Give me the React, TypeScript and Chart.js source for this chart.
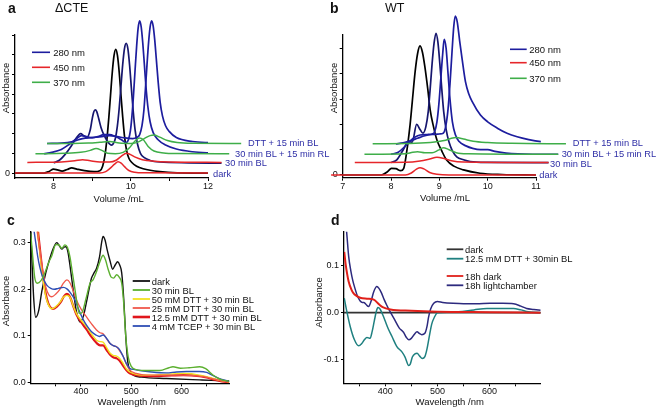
import { useEffect, useRef } from 'react';
import { Chart, registerables } from 'chart.js';

Chart.register(...registerables);

const FONT = '"Liberation Sans", Arial, Helvetica, sans-serif';
type Pt = [number, number];

// ---------- colours ----------
const NAVY = '#1d1d9e';
const RED = '#e6262a';
const GREEN = '#3fae49';
const LABEL_BLUE = '#2e2ea6';

// ---------- panel a (ΔCTE) : volume (mL) vs absorbance (offset traces) ----------
const A_X_TICKS = [8, 9, 10, 11, 12];
const A_X_LABELS = ['8', '', '10', '', '12'];
const A_Y_TICKS = [0, 1, 2, 3, 4, 5, 6, 7];
const A_Y_LABELS = ['0', '', '', '', '', '', '', ''];

const A_DARK_280: Pt[] = [[7.0,0],[7.75,0],[7.88,0.08],[8.0,0.2],[8.1,0.16],[8.22,0.1],[8.35,0.18],[8.47,0.26],[8.6,0.2],[8.8,0.12],[9.05,0.07],[9.2,0.12],[9.27,0.35],[9.33,0.9],[9.385,1.8],[9.43,2.8],[9.475,3.95],[9.52,5.1],[9.565,5.95],[9.61,6.27],[9.655,5.95],[9.7,5.1],[9.745,3.95],[9.79,2.85],[9.835,1.9],[9.89,1.15],[9.95,0.75],[10.02,0.55],[10.15,0.35],[10.32,0.22],[10.75,0.07],[11.2,0.01],[12.0,0]];
const A_DARK_450: Pt[] = [[7.0,0],[9.2,0],[9.35,0.07],[9.47,0.25],[9.58,0.45],[9.67,0.57],[9.75,0.5],[9.85,0.3],[9.95,0.13],[10.1,0.04],[10.35,0.01],[12.0,0]];
const A_BL_280: Pt[] = [[8.0,0.52],[8.15,0.65],[8.3,0.95],[8.45,1.35],[8.58,1.75],[8.7,2.0],[8.78,1.9],[8.86,1.8],[8.95,2.2],[9.0,2.75],[9.04,3.1],[9.08,3.2],[9.12,3.1],[9.17,2.75],[9.23,2.3],[9.3,1.95],[9.4,1.6],[9.5,1.42],[9.55,1.5],[9.6,1.75],[9.65,2.35],[9.7,3.3],[9.745,4.4],[9.79,5.5],[9.835,6.3],[9.88,6.58],[9.925,6.3],[9.97,5.45],[10.015,4.3],[10.06,3.2],[10.11,2.2],[10.17,1.5],[10.25,1.0],[10.35,0.78],[10.5,0.64],[10.75,0.56],[11.5,0.52],[12.35,0.5]];
const A_BL_450: Pt[] = [[7.32,0.54],[8.2,0.56],[8.55,0.62],[8.75,0.68],[8.95,0.62],[9.2,0.56],[9.45,0.56],[9.62,0.65],[9.75,0.85],[9.89,1.0],[9.98,0.95],[10.1,0.82],[10.3,0.68],[10.6,0.6],[11.0,0.56],[12.35,0.54]];
const A_RL_280: Pt[] = [[7.75,0.98],[7.95,1.05],[8.2,1.2],[8.4,1.45],[8.6,1.75],[8.72,1.9],[8.85,1.85],[9.0,1.8],[9.15,1.85],[9.3,1.95],[9.45,1.95],[9.6,1.85],[9.75,1.7],[9.88,1.55],[9.94,1.7],[9.99,2.15],[10.03,2.9],[10.07,3.95],[10.11,5.2],[10.15,6.4],[10.19,7.35],[10.23,7.72],[10.27,7.4],[10.31,6.6],[10.35,5.55],[10.39,4.45],[10.44,3.4],[10.5,2.6],[10.58,2.05],[10.7,1.7],[10.9,1.42],[11.18,1.22],[11.6,1.08],[12.0,1.02],[12.55,0.98]];
const A_RL_370: Pt[] = [[7.53,0.98],[8.3,1.0],[8.7,1.05],[8.95,1.15],[9.1,1.25],[9.25,1.15],[9.4,1.0],[9.6,0.98],[9.8,1.05],[9.95,1.25],[10.1,1.6],[10.22,1.78],[10.32,1.7],[10.45,1.35],[10.6,1.12],[10.85,1.02],[11.2,0.99],[12.55,0.98]];
const A_DTT_280: Pt[] = [[7.83,1.5],[8.2,1.52],[8.5,1.6],[8.75,1.75],[9.0,1.8],[9.25,1.85],[9.45,1.9],[9.65,1.85],[9.85,1.78],[10.05,1.75],[10.15,1.8],[10.23,1.95],[10.29,2.4],[10.34,3.2],[10.38,4.3],[10.42,5.5],[10.46,6.6],[10.5,7.4],[10.54,7.72],[10.58,7.45],[10.62,6.75],[10.66,5.8],[10.71,4.6],[10.76,3.6],[10.82,2.9],[10.9,2.4],[11.0,2.1],[11.18,1.8],[11.6,1.6],[12.0,1.54],[12.86,1.5]];
const A_DTT_370: Pt[] = [[7.83,1.5],[8.5,1.5],[8.9,1.52],[9.2,1.56],[9.45,1.6],[9.7,1.52],[10.0,1.5],[10.2,1.58],[10.35,1.75],[10.5,1.9],[10.6,1.93],[10.75,1.82],[10.95,1.65],[11.2,1.55],[11.6,1.51],[12.86,1.5]];

// ---------- panel b (WT) ----------
const B_X_TICKS = [7, 8, 9, 10, 11];
const B_X_LABELS = ['7', '8', '9', '10', '11'];
const B_Y_TICKS = [0, 1, 2, 3, 4, 5];
const B_Y_LABELS = ['0', '', '', '', '', ''];

const B_DARK_280: Pt[] = [[7.0,0],[7.8,0],[7.92,0.12],[8.01,0.26],[8.1,0.25],[8.2,0.17],[8.26,0.25],[8.32,0.86],[8.39,1.91],[8.44,2.9],[8.5,4.1],[8.55,4.8],[8.6,5.1],[8.65,4.85],[8.7,4.28],[8.76,3.4],[8.81,2.57],[8.88,1.9],[8.95,1.38],[9.05,0.95],[9.15,0.59],[9.3,0.35],[9.5,0.2],[9.84,0.07],[10.3,0.02],[11.0,0]];
const B_DARK_450: Pt[] = [[6.76,0],[8.3,0],[8.42,0.08],[8.52,0.22],[8.6,0.29],[8.68,0.24],[8.8,0.1],[8.95,0.03],[9.2,0],[11.0,0]];
const B_BL_280: Pt[] = [[8.0,0.49],[8.12,0.6],[8.25,0.99],[8.36,1.32],[8.44,1.3],[8.53,2.0],[8.6,1.8],[8.66,1.65],[8.72,1.9],[8.77,2.5],[8.81,3.4],[8.85,4.4],[8.89,5.2],[8.93,5.6],[8.97,5.25],[9.01,4.4],[9.05,3.4],[9.09,2.5],[9.14,1.8],[9.2,1.3],[9.27,0.95],[9.36,0.72],[9.5,0.6],[9.64,0.53],[10.0,0.5],[11.26,0.49]];
const B_BL_450: Pt[] = [[7.25,0.49],[8.3,0.5],[8.6,0.55],[8.8,0.63],[8.95,0.7],[9.08,0.66],[9.25,0.56],[9.5,0.51],[11.26,0.49]];
const B_RL_280: Pt[] = [[8.0,0.82],[8.15,0.9],[8.3,1.15],[8.4,1.35],[8.5,1.5],[8.6,1.58],[8.75,1.6],[8.85,1.62],[8.9,1.7],[8.95,2.1],[8.99,2.8],[9.03,3.8],[9.07,4.8],[9.1,5.36],[9.14,5.0],[9.18,4.0],[9.22,3.0],[9.27,2.1],[9.33,1.6],[9.41,1.32],[9.55,1.15],[9.69,1.05],[9.85,1.0],[10.0,1.0],[10.15,0.93],[10.38,0.86],[10.93,0.82],[11.46,0.82]];
const B_RL_370: Pt[] = [[7.45,0.82],[8.3,0.84],[8.45,0.9],[8.55,0.92],[8.7,0.88],[8.85,0.88],[8.98,0.98],[9.08,1.08],[9.2,1.0],[9.35,0.88],[9.6,0.84],[11.46,0.82]];
const B_DTT_280: Pt[] = [[8.1,1.23],[8.25,1.27],[8.4,1.35],[8.55,1.45],[8.7,1.55],[8.85,1.6],[9.0,1.62],[9.08,1.65],[9.13,1.9],[9.18,2.6],[9.22,3.6],[9.26,4.8],[9.3,5.9],[9.33,6.28],[9.37,6.05],[9.42,5.3],[9.47,4.6],[9.54,3.69],[9.61,3.2],[9.68,2.9],[9.85,2.37],[10.0,2.1],[10.2,1.85],[10.4,1.65],[10.61,1.51],[10.85,1.4],[11.1,1.32],[11.62,1.25]];
const B_DTT_370: Pt[] = [[7.62,1.23],[8.5,1.25],[8.9,1.3],[9.1,1.36],[9.25,1.45],[9.35,1.48],[9.5,1.42],[9.7,1.33],[10.0,1.28],[10.5,1.25],[11.62,1.23]];

// ---------- panel c : UV-vis spectra ----------
const C_X_TICKS = [350, 400, 450, 500, 550, 600, 650];
const C_X_LABELS = ['', '400', '', '500', '', '600', ''];
const C_Y_TICKS = [0, 0.1, 0.2, 0.3];
const C_Y_LABELS = ['0.0', '0.1', '0.2', '0.3'];

const C_DARK: Pt[] = [[300,0.33],[303,0.25],[306,0.18],[310,0.14],[316,0.155],[322,0.195],[330,0.235],[338,0.266],[345,0.288],[352,0.3],[357,0.293],[362,0.286],[366,0.29],[370,0.291],[374,0.28],[378,0.252],[385,0.195],[391,0.152],[398,0.13],[405,0.143],[411,0.173],[416,0.2],[421,0.224],[426,0.235],[431,0.245],[437,0.27],[441,0.3],[444,0.313],[448,0.305],[452,0.285],[458,0.26],[463,0.243],[468,0.252],[473,0.259],[477,0.252],[481,0.235],[485,0.18],[489,0.1],[493,0.045],[498,0.025],[504,0.016],[520,0.012],[570,0.009],[636,0.006],[660,0.005],[695,0.004]];
const C_BL30: Pt[] = [[300,0.32],[304,0.27],[308,0.225],[313,0.213],[320,0.218],[328,0.235],[336,0.258],[342,0.272],[350,0.296],[356,0.295],[362,0.288],[368,0.295],[373,0.29],[378,0.27],[383,0.235],[388,0.2],[393,0.165],[397,0.148],[402,0.15],[410,0.18],[418,0.213],[424,0.22],[431,0.238],[438,0.26],[444,0.273],[449,0.262],[454,0.243],[460,0.226],[465,0.224],[471,0.231],[476,0.226],[481,0.213],[485,0.17],[489,0.1],[494,0.055],[500,0.035],[510,0.028],[530,0.026],[557,0.026],[575,0.032],[583,0.034],[598,0.031],[615,0.032],[636,0.034],[648,0.03],[663,0.016],[680,0.006],[695,0.003]];
const C_DTT50: Pt[] = [[313,0.33],[318,0.28],[324,0.225],[330,0.185],[336,0.165],[342,0.158],[350,0.163],[358,0.172],[365,0.183],[372,0.187],[378,0.183],[385,0.163],[391,0.148],[400,0.134],[411,0.12],[421,0.104],[431,0.091],[438,0.088],[444,0.087],[451,0.075],[458,0.063],[465,0.058],[471,0.057],[477,0.052],[484,0.041],[490,0.03],[497,0.023],[510,0.018],[537,0.016],[570,0.018],[603,0.02],[620,0.019],[636,0.016],[650,0.013],[663,0.009],[680,0.004],[695,0.002]];
const C_DTT25: Pt[] = [[312,0.33],[318,0.285],[324,0.24],[330,0.205],[336,0.188],[342,0.184],[350,0.19],[358,0.2],[365,0.213],[372,0.22],[378,0.214],[385,0.195],[391,0.177],[400,0.158],[411,0.141],[421,0.126],[431,0.113],[438,0.107],[444,0.105],[451,0.094],[458,0.084],[465,0.079],[471,0.077],[477,0.068],[484,0.056],[490,0.04],[497,0.027],[510,0.02],[540,0.016],[570,0.016],[603,0.016],[636,0.014],[650,0.012],[663,0.008],[680,0.004],[695,0.002]];
const C_DTT125: Pt[] = [[314,0.33],[320,0.27],[326,0.215],[332,0.18],[338,0.163],[344,0.158],[352,0.163],[360,0.173],[366,0.185],[372,0.19],[378,0.184],[385,0.163],[391,0.146],[400,0.13],[411,0.114],[421,0.098],[431,0.085],[438,0.08],[444,0.08],[451,0.07],[458,0.06],[465,0.054],[471,0.052],[477,0.047],[484,0.036],[490,0.027],[497,0.02],[510,0.016],[540,0.014],[570,0.015],[603,0.016],[636,0.014],[650,0.011],[663,0.007],[680,0.003],[695,0.001]];
const C_TCEP: Pt[] = [[306,0.33],[310,0.3],[314,0.27],[318,0.248],[324,0.225],[332,0.209],[340,0.202],[347,0.2],[355,0.202],[365,0.204],[372,0.201],[378,0.194],[388,0.177],[396,0.155],[405,0.134],[413,0.12],[421,0.109],[430,0.102],[437,0.099],[441,0.101],[444,0.102],[448,0.099],[453,0.092],[458,0.084],[463,0.08],[470,0.077],[476,0.072],[484,0.056],[490,0.042],[497,0.031],[507,0.028],[517,0.026],[540,0.023],[570,0.021],[590,0.023],[610,0.024],[635,0.024],[650,0.022],[663,0.015],[680,0.007],[695,0.003]];

// ---------- panel d : difference spectra ----------
const D_X_TICKS = [350, 400, 450, 500, 550, 600, 650];
const D_X_LABELS = ['', '400', '', '500', '', '600', ''];
const D_Y_TICKS = [-0.1, 0, 0.1];
const D_Y_LABELS = ['-0.1', '0.0', '0.1'];

const D_DARK: Pt[] = [[321,0],[698,0]];
const D_DTT: Pt[] = [[321.5,0.031],[326,0.005],[333,-0.03],[341,-0.058],[349,-0.071],[355,-0.066],[360,-0.058],[365,-0.053],[371,-0.055],[375,-0.04],[379,-0.018],[383,0.003],[386,0.011],[390,0.008],[395,-0.004],[400,-0.018],[406,-0.035],[413,-0.051],[422,-0.072],[432,-0.084],[438,-0.095],[445,-0.113],[448,-0.11],[452,-0.095],[457,-0.088],[461,-0.087],[466,-0.093],[471,-0.098],[476,-0.094],[480,-0.078],[484,-0.054],[489,-0.025],[495,-0.008],[500,0],[520,0.001],[540,0.002],[570,0.006],[595,0.009],[620,0.009],[646,0.009],[660,0.006],[674,0.002],[698,0]];
const D_DARK18: Pt[] = [[321.5,0.13],[324,0.105],[327,0.083],[330,0.066],[335,0.05],[339,0.042],[345,0.036],[352,0.032],[365,0.03],[378,0.028],[388,0.018],[395,0.012],[410,0.007],[450,0.004],[500,0.002],[600,0.001],[698,0]];
const D_LIGHT: Pt[] = [[324,0.2],[327,0.16],[330,0.12],[334,0.09],[338,0.068],[342,0.052],[347,0.035],[352,0.025],[356,0.022],[359,0.022],[363,0.018],[368,0.013],[373,0.025],[378,0.045],[384,0.056],[388,0.052],[393,0.042],[398,0.028],[403,0.016],[408,0.005],[412,-0.003],[418,-0.015],[427,-0.033],[435,-0.042],[440,-0.052],[445,-0.058],[450,-0.055],[456,-0.046],[461,-0.041],[466,-0.045],[470,-0.047],[476,-0.044],[480,-0.03],[483,-0.01],[487,0.008],[493,0.02],[500,0.024],[510,0.022],[530,0.02],[550,0.019],[575,0.019],[601,0.02],[625,0.02],[646,0.019],[660,0.014],[671,0.009],[685,0.007],[698,0.005]];

type Series = { data: Pt[]; color: string; width: number };

interface PanelProps {
  left: number; top: number; width: number; height: number;
  pad: { left: number; top: number; right: number; bottom: number };
  yWidth: number; xHeight: number;
  xMin: number; xMax: number; yMin: number; yMax: number;
  xTicks: number[]; xLabels: string[]; yTicks: number[]; yLabels: string[];
  tickFont: number;
  series: Series[];
  clip: boolean;
}

function Panel(p: PanelProps) {
  const ref = useRef<HTMLCanvasElement>(null);
  useEffect(() => {
    const tickFont = { family: FONT, size: p.tickFont };
    const chart = new Chart(ref.current as HTMLCanvasElement, {
      type: 'line',
      data: {
        datasets: p.series.map((s) => ({
          data: s.data.map(([x, y]) => ({ x, y })),
          borderColor: s.color,
          borderWidth: s.width,
          pointRadius: 0,
          cubicInterpolationMode: 'monotone' as const,
          fill: false,
          clip: p.clip ? 0 : (false as any),
        })),
      },
      options: {
        animation: false,
        responsive: false,
        maintainAspectRatio: false,
        devicePixelRatio: 1,
        events: [],
        layout: { padding: p.pad },
        plugins: { legend: { display: false }, tooltip: { enabled: false }, title: { display: false } },
        scales: {
          x: {
            type: 'linear',
            min: p.xMin,
            max: p.xMax,
            afterBuildTicks: (s: any) => { s.ticks = p.xTicks.map((v) => ({ value: v })); },
            afterFit: (s: any) => { s.height = p.xHeight; },
            ticks: {
              autoSkip: false, maxRotation: 0, padding: 0, color: '#111', font: tickFont,
              callback: (_v: any, i: number) => p.xLabels[i] ?? '',
            },
            grid: { drawOnChartArea: false, drawTicks: true, tickLength: 3, tickColor: '#000', tickWidth: 1 },
            border: { display: true, color: '#000', width: 1.3 },
          },
          y: {
            type: 'linear',
            min: p.yMin,
            max: p.yMax,
            afterBuildTicks: (s: any) => { s.ticks = p.yTicks.map((v) => ({ value: v })); },
            afterFit: (s: any) => { s.width = p.yWidth; },
            ticks: {
              autoSkip: false, padding: 2, color: '#111', font: tickFont,
              callback: (_v: any, i: number) => p.yLabels[i] ?? '',
            },
            grid: { drawOnChartArea: false, drawTicks: true, tickLength: 3, tickColor: '#000', tickWidth: 1 },
            border: { display: true, color: '#000', width: 1.3 },
          },
        },
      } as any,
    });
    return () => chart.destroy();
  }, []);
  return (
    <canvas
      ref={ref}
      width={p.width}
      height={p.height}
      style={{ position: 'absolute', left: p.left, top: p.top, width: p.width, height: p.height }}
    />
  );
}

function T(props: { x: number; y: number; s: number; children: any; fill?: string; bold?: boolean; anchor?: string; rot?: boolean }) {
  const { x, y, s, fill = '#111', bold, anchor = 'start', rot } = props;
  return (
    <text
      x={rot ? 0 : x}
      y={rot ? 0 : y}
      transform={rot ? `translate(${x},${y}) rotate(-90)` : undefined}
      fontFamily={FONT}
      fontSize={s}
      fontWeight={bold ? 'bold' : 'normal'}
      fill={fill}
      textAnchor={anchor as any}
      dominantBaseline="central"
    >
      {props.children}
    </text>
  );
}

function Legend(props: { x1: number; x2: number; tx: number; rows: { y: number; color: string; w: number; text: string }[]; s: number }) {
  return (
    <g>
      {props.rows.map((r, i) => (
        <g key={i}>
          <line x1={props.x1} x2={props.x2} y1={r.y} y2={r.y} stroke={r.color} strokeWidth={r.w} />
          <T x={props.tx} y={r.y} s={props.s}>{r.text}</T>
        </g>
      ))}
    </g>
  );
}

export default function App() {
  const abSeries = (d280: Pt[], d450: Pt[], bl280: Pt[], bl450: Pt[], rl280: Pt[], rl370: Pt[], dtt280: Pt[], dtt370: Pt[]): Series[] => [
    { data: d450, color: RED, width: 1.5 },
    { data: bl450, color: RED, width: 1.5 },
    { data: rl370, color: GREEN, width: 1.5 },
    { data: dtt370, color: GREEN, width: 1.5 },
    { data: dtt280, color: NAVY, width: 1.7 },
    { data: rl280, color: NAVY, width: 1.7 },
    { data: bl280, color: '#16166e', width: 1.7 },
    { data: d280, color: '#000', width: 1.7 },
  ];
  const legendAB = [
    { color: NAVY, w: 1.6, text: '280 nm' },
    { color: RED, w: 1.6, text: '450 nm' },
    { color: GREEN, w: 1.6, text: '370 nm' },
  ];
  const traceLabels = ['DTT + 15 min BL', '30 min BL + 15 min RL', '30 min BL', 'dark'];
  return (
    <div style={{ position: 'absolute', left: 0, top: 0, width: 658, height: 408, background: '#fff', overflow: 'hidden' }}>
      <Panel
        left={0} top={0} width={327} height={204}
        pad={{ left: 0, top: 35, right: 327 - 208, bottom: 0 }}
        yWidth={15} xHeight={26}
        xMin={7} xMax={12} yMin={-0.25} yMax={7}
        xTicks={A_X_TICKS} xLabels={A_X_LABELS} yTicks={A_Y_TICKS} yLabels={A_Y_LABELS}
        tickFont={9}
        clip={false}
        series={abSeries(A_DARK_280, A_DARK_450, A_BL_280, A_BL_450, A_RL_280, A_RL_370, A_DTT_280, A_DTT_370)}
      />
      <Panel
        left={327} top={0} width={331} height={204}
        pad={{ left: 0, top: 35, right: 658 - 536, bottom: 0 }}
        yWidth={15.7} xHeight={26.3}
        xMin={7} xMax={11} yMin={-0.107} yMax={5.53}
        xTicks={B_X_TICKS} xLabels={B_X_LABELS} yTicks={B_Y_TICKS} yLabels={B_Y_LABELS}
        tickFont={9}
        clip={false}
        series={abSeries(B_DARK_280, B_DARK_450, B_BL_280, B_BL_450, B_RL_280, B_RL_370, B_DTT_280, B_DTT_370)}
      />
      <Panel
        left={0} top={204} width={312} height={204}
        pad={{ left: 0, top: 27.7, right: 312 - 229.3, bottom: 0 }}
        yWidth={30.7} xHeight={24.7}
        xMin={300} xMax={695} yMin={-0.0013} yMax={0.3233}
        xTicks={C_X_TICKS} xLabels={C_X_LABELS} yTicks={C_Y_TICKS} yLabels={C_Y_LABELS}
        tickFont={9}
        clip={true}
        series={[
          { data: C_BL30, color: '#5cb030', width: 1.4 },
          { data: C_TCEP, color: '#2f4fb5', width: 1.4 },
          { data: C_DTT25, color: '#f0584c', width: 1.3 },
          { data: C_DTT50, color: '#f2e21e', width: 1.4 },
          { data: C_DTT125, color: '#e0161c', width: 2.2 },
          { data: C_DARK, color: '#111', width: 1.4 },
        ]}
      />
      <Panel
        left={312} top={204} width={346} height={204}
        pad={{ left: 0, top: 27.7, right: 658 - 540.7, bottom: 0 }}
        yWidth={32} xHeight={24.7}
        xMin={321} xMax={698} yMin={-0.1512} yMax={0.1734}
        xTicks={D_X_TICKS} xLabels={D_X_LABELS} yTicks={D_Y_TICKS} yLabels={D_Y_LABELS}
        tickFont={9}
        clip={true}
        series={[
          { data: D_DARK18, color: '#e0201a', width: 2 },
          { data: D_DTT, color: '#1f8080', width: 1.5 },
          { data: D_LIGHT, color: '#2d2a7e', width: 1.5 },
          { data: D_DARK, color: '#333', width: 1.8 },
        ]}
      />
      <svg width={658} height={408} style={{ position: 'absolute', left: 0, top: 0, pointerEvents: 'none' }}>
        <T x={8} y={8} s={14} bold>a</T>
        <T x={55} y={8} s={12.5}>ΔCTE</T>
        <T x={330} y={7.5} s={14} bold>b</T>
        <T x={385} y={8} s={12.5}>WT</T>
        <T x={7} y={220} s={14} bold>c</T>
        <T x={331} y={220} s={14} bold>d</T>

        <T x={5.3} y={88} s={9.5} anchor="middle" rot>Absorbance</T>
        <T x={118.7} y={198} s={9.5} anchor="middle">Volume /mL</T>
        <T x={333} y={88} s={9.5} anchor="middle" rot>Absorbance</T>
        <T x={445} y={197} s={9.5} anchor="middle">Volume /mL</T>
        <T x={5} y={301} s={9.5} anchor="middle" rot>Absorbance</T>
        <T x={131.7} y={401.5} s={9.5} anchor="middle">Wavelength /nm</T>
        <T x={318} y={302.5} s={9.5} anchor="middle" rot>Absorbance</T>
        <T x={449.7} y={401.5} s={9.5} anchor="middle">Wavelength /nm</T>

        <Legend x1={32} x2={50} tx={53.3} s={9.5} rows={legendAB.map((r, i) => ({ ...r, y: [52.3, 67.3, 82.3][i] }))} />
        <Legend x1={510} x2={526.7} tx={529.3} s={9.5} rows={legendAB.map((r, i) => ({ ...r, y: [49.3, 62.7, 78.3][i] }))} />
        <Legend
          x1={132.7} x2={150} tx={151.7} s={9.4}
          rows={[
            { y: 281, color: '#111', w: 1.8, text: 'dark' },
            { y: 290, color: '#5cb030', w: 1.8, text: '30 min BL' },
            { y: 299, color: '#f2e21e', w: 1.8, text: '50 mM DTT + 30 min BL' },
            { y: 308, color: '#f0584c', w: 1.8, text: '25 mM DTT + 30 min BL' },
            { y: 317, color: '#e0161c', w: 2.6, text: '12.5 mM DTT + 30 min BL' },
            { y: 326, color: '#2f4fb5', w: 1.8, text: '4 mM TCEP + 30 min BL' },
          ]}
        />
        <Legend
          x1={446.7} x2={463.3} tx={465} s={9.4}
          rows={[
            { y: 249.3, color: '#333', w: 1.8, text: 'dark' },
            { y: 258.7, color: '#1f8080', w: 1.8, text: '12.5 mM DTT + 30min BL' },
            { y: 276, color: '#e0201a', w: 1.8, text: '18h dark' },
            { y: 285.3, color: '#2d2a7e', w: 1.8, text: '18h lightchamber' },
          ]}
        />

        {traceLabels.map((t, i) => (
          <T key={'a' + i} x={[248, 235, 225, 213][i]} y={[143.3, 153.7, 163, 174][i]} s={9.3} fill={LABEL_BLUE}>{t}</T>
        ))}
        {traceLabels.map((t, i) => (
          <T key={'b' + i} x={[572.7, 561.7, 550, 539.3][i]} y={[142.7, 154.3, 164.3, 175][i]} s={9.3} fill={LABEL_BLUE}>{t}</T>
        ))}
      </svg>
    </div>
  );
}
